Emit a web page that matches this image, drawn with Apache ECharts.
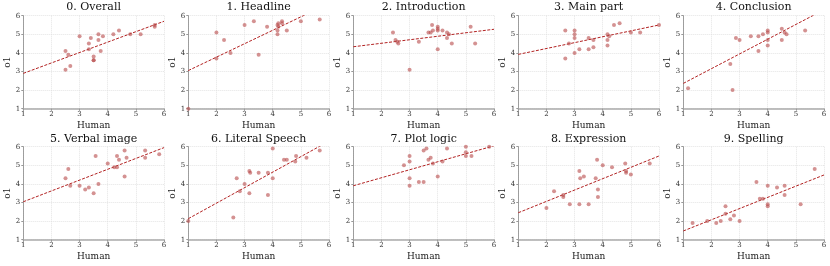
<!DOCTYPE html>
<html>
<head>
<meta charset="utf-8">
<script src="https://cdn.jsdelivr.net/npm/echarts@6/dist/echarts.min.js"></script>
<style>html,body{margin:0;padding:0;background:#fff}#c{width:830px;height:266px}</style>
</head>
<body>
<div id="c"></div>
<script>
const titles = ['0. Overall','1. Headline','2. Introduction','3. Main part','4. Conclusion',
                '5. Verbal image','6. Literal Speech','7. Plot logic','8. Expression','9. Spelling'];
const xTicks = [1,2,3,4,5,6];
const yTicks = [1,2,3,4,5,6];

const human0 = [2.5,2.5,2.6,2.67,3.0,3.33,3.33,3.4,3.5,3.5,3.5,3.67,3.67,3.75,3.83,4.2,4.4,4.8,5.17,5.67,5.67];
const o1_0   = [4.1,3.1,3.9,3.3,4.9,4.5,4.2,4.8,3.8,3.6,3.6,5.0,4.7,4.1,4.9,5.0,5.2,5.0,5.0,5.4,5.5];

const human1 = [1.0,2.0,2.0,2.27,2.5,3.0,3.33,3.5,3.8,4.17,4.17,4.17,4.2,4.2,4.33,4.33,4.5,5.0,5.67];
const o1_1   = [1.0,5.1,3.7,4.7,4.0,5.5,5.7,3.9,5.4,5.5,5.2,5.0,5.4,5.6,5.7,5.6,5.2,5.7,5.8];

const human2 = [2.41,2.5,2.56,2.6,3.0,3.33,3.67,3.75,3.8,3.83,4.0,4.0,4.0,4.0,4.17,4.33,4.33,4.4,4.5,5.17,5.33];
const o1_2   = [5.1,4.7,4.6,4.5,3.1,4.6,5.1,5.1,5.5,5.2,5.4,5.3,5.2,4.2,5.2,5.1,4.8,5.0,4.5,5.4,4.5];

const human3 = [2.67,2.67,2.8,3.0,3.0,3.0,3.0,3.17,3.5,3.5,3.67,3.67,4.17,4.17,4.17,4.23,4.4,4.6,5.0,5.33,6.0];
const o1_3   = [5.2,3.7,4.5,5.2,5.0,4.8,4.0,4.2,4.8,4.2,4.7,4.3,5.0,4.7,4.4,4.9,5.5,5.6,5.1,5.1,5.5];

const human4 = [1.17,2.67,2.75,2.87,3.0,3.4,3.67,3.67,3.83,4.0,4.0,4.0,4.0,4.5,4.5,4.6,4.67,5.33];
const o1_4   = [2.1,3.4,2.0,4.8,4.7,4.9,4.9,4.1,5.0,5.2,5.1,4.7,4.4,5.3,4.7,5.1,5.0,5.2];

const human5 = [2.5,2.6,2.67,3.0,3.2,3.33,3.5,3.57,3.67,4.0,4.23,4.33,4.33,4.4,4.6,4.6,4.67,5.33,5.33,5.83];
const o1_5   = [4.3,4.8,3.9,3.9,3.7,3.8,3.5,5.5,4.0,5.1,4.9,4.9,5.5,5.3,5.8,4.4,5.4,5.8,5.4,5.6];

const human6 = [1.0,2.6,2.72,2.83,3.0,3.17,3.2,3.17,3.5,3.83,3.83,4.0,4.0,4.4,4.5,4.8,4.83,5.2,5.67];
const o1_6   = [2.0,2.2,4.3,3.6,4.0,4.7,4.6,3.5,4.6,4.6,3.4,5.9,4.3,5.3,5.3,5.2,5.5,5.4,5.8];

const human7 = [2.8,3.0,3.0,3.0,3.0,3.33,3.5,3.5,3.6,3.67,3.75,3.83,4.0,4.17,4.33,5.0,5.0,5.0,5.2,5.83];
const o1_7   = [5.0,5.5,5.2,4.3,3.9,4.1,4.1,5.8,5.9,5.3,5.4,5.1,4.4,5.2,5.9,6.0,5.7,5.5,5.5,6.0];

const human8 = [2.0,2.27,2.6,2.6,2.83,3.17,3.17,3.2,3.33,3.5,3.75,3.8,3.83,3.83,4.0,4.33,4.8,4.83,4.83,5.0,5.67];
const o1_8   = [2.7,3.6,3.4,3.3,2.9,4.7,2.9,4.3,4.4,2.9,4.3,5.3,3.7,3.3,5.0,4.9,5.1,4.7,4.6,4.5,5.1];

const human9 = [1.33,1.85,2.17,2.33,2.5,2.5,2.67,2.8,3.0,3.6,3.72,3.83,4.0,4.0,4.0,4.33,4.6,4.6,5.17,5.67];
const o1_9   = [1.9,2.0,1.9,2.0,2.8,2.4,2.1,2.3,2.0,4.1,3.2,3.2,3.9,2.9,2.8,3.8,3.9,3.4,2.9,4.8];

// dashed fit line: value at Human=1 and Human=6 for each panel
const fitAt1 = [2.9,3.05,4.33,3.92,2.36,3.04,2.13,3.9,2.45,1.47];
const fitAt6 = [5.7,6.66,5.27,5.5,6.32,5.95,6.3,6.05,5.5,4.48];

const humans = [human0,human1,human2,human3,human4,human5,human6,human7,human8,human9];
const o1s = [o1_0,o1_1,o1_2,o1_3,o1_4,o1_5,o1_6,o1_7,o1_8,o1_9];

const FONT = 'DejaVu Serif';
const grids = [], xAxes = [], yAxes = [], series = [], titleArr = [];
for (let i = 0; i < 10; i++) {
  const col = i % 5, row = Math.floor(i / 5);
  const left = 23.3 + 165 * col;
  const top = row === 0 ? 15.7 : 146.7;
  const w = 140.7, h = 93;
  grids.push({left: left, top: top, width: w, height: h, containLabel: false});
  titleArr.push({text: titles[i], left: left + w / 2, textAlign: 'center', top: row === 0 ? 2 : 133.5, padding: 0,
    textStyle: {fontFamily: FONT, fontSize: 11, fontWeight: 'normal', color: '#111'}});
  xAxes.push({gridIndex: i, type: 'value', min: xTicks[0], max: xTicks[xTicks.length-1], interval: 1,
    name: 'Human', nameLocation: 'middle', nameGap: 12,
    nameTextStyle: {fontFamily: FONT, fontSize: 9, color: '#222'},
    axisLine: {onZero: false, lineStyle: {color: '#aaa', width: 1.6}},
    axisTick: {show: true, length: 2, lineStyle: {color: '#999'}},
    axisLabel: {fontFamily: FONT, fontSize: 7, color: '#333', margin: 2},
    splitLine: {show: true, lineStyle: {color: '#ddd', type: [1, 1], width: 0.8}}});
  yAxes.push({gridIndex: i, type: 'value', min: yTicks[0], max: yTicks[yTicks.length-1], interval: 1,
    name: 'o1', nameLocation: 'middle', nameGap: 9,
    nameTextStyle: {fontFamily: FONT, fontSize: 9, color: '#222'},
    axisLine: {show: true, onZero: false, lineStyle: {color: '#888', width: 0.8}},
    axisTick: {show: true, length: 2, lineStyle: {color: '#999'}},
    axisLabel: {fontFamily: FONT, fontSize: 7, color: '#333', margin: 3},
    splitLine: {show: true, lineStyle: {color: '#ddd', type: [1, 1], width: 0.8}}});
  series.push({type: 'line', xAxisIndex: i, yAxisIndex: i, data: [[1, fitAt1[i]], [6, fitAt6[i]]],
    showSymbol: false, symbol: 'none', clip: true, silent: true, z: 3,
    lineStyle: {color: '#b22222', width: 1, type: [3, 1.5]}});
  series.push({type: 'scatter', xAxisIndex: i, yAxisIndex: i, symbolSize: 4, z: 4,
    data: humans[i].map((x, k) => [x, o1s[i][k]]),
    itemStyle: {color: '#b84a4a', opacity: 0.6}});
}
const chart = echarts.init(document.getElementById('c'), null, {renderer: 'canvas'});
chart.setOption({animation: false, backgroundColor: '#fff', title: titleArr, grid: grids, xAxis: xAxes, yAxis: yAxes, series: series});
</script>
</body>
</html>
